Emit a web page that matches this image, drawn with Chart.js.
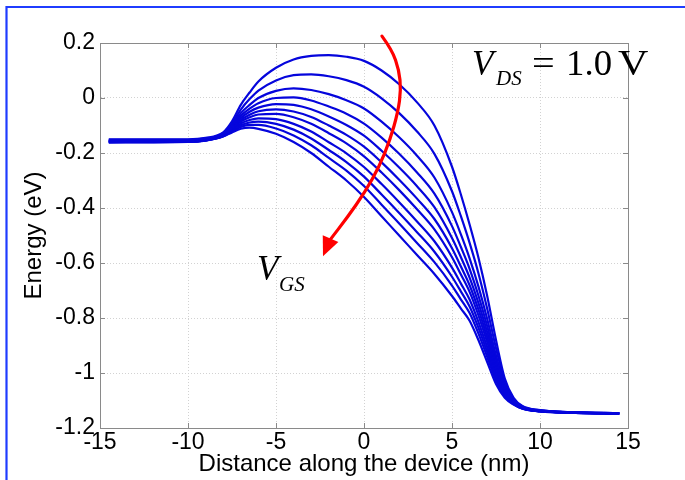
<!DOCTYPE html>
<html><head><meta charset="utf-8">
<script src="https://cdn.jsdelivr.net/npm/chart.js@4.4.1/dist/chart.umd.min.js"></script>
<style>html,body{margin:0;padding:0;background:#fff;}canvas{display:block;}</style>
</head><body>
<canvas id="c" width="685" height="480"></canvas>
<script>
// Position along the device (nm)
const positionNm = [-14.5,-10,-9,-8,-7.5,-7,-6.5,-6,-5,-4,-3,-2,-1,0,1,2,3,4,5,5.5,6,6.5,7,7.5,8,8.5,9,10,11,12,14.5];

// Energy (eV) for each gate voltage (top curve = lowest V_GS)
const vgs1  = [-0.150,-0.150,-0.145,-0.125,-0.085,-0.025,0.020,0.060,0.110,0.140,0.153,0.156,0.150,0.135,0.100,0.050,-0.015,-0.100,-0.250,-0.350,-0.460,-0.580,-0.720,-0.880,-1.020,-1.090,-1.120,-1.135,-1.140,-1.143,-1.146];
const vgs2  = [-0.152,-0.152,-0.147,-0.128,-0.093,-0.042,-0.004,0.027,0.064,0.083,0.086,0.079,0.065,0.041,-0.001,-0.055,-0.121,-0.203,-0.339,-0.429,-0.527,-0.637,-0.766,-0.910,-1.033,-1.095,-1.122,-1.136,-1.140,-1.143,-1.146];
const vgs3  = [-0.154,-0.154,-0.149,-0.130,-0.099,-0.055,-0.025,0.000,0.026,0.035,0.029,0.014,-0.008,-0.038,-0.086,-0.143,-0.209,-0.289,-0.415,-0.495,-0.583,-0.685,-0.804,-0.936,-1.045,-1.099,-1.124,-1.137,-1.141,-1.144,-1.147];
const vgs4  = [-0.156,-0.155,-0.150,-0.132,-0.103,-0.065,-0.039,-0.019,0.000,0.002,-0.009,-0.031,-0.057,-0.093,-0.144,-0.203,-0.270,-0.348,-0.466,-0.541,-0.621,-0.718,-0.830,-0.954,-1.052,-1.102,-1.125,-1.137,-1.141,-1.144,-1.147];
const vgs5  = [-0.157,-0.156,-0.151,-0.133,-0.107,-0.073,-0.050,-0.035,-0.022,-0.025,-0.041,-0.067,-0.098,-0.137,-0.192,-0.253,-0.320,-0.397,-0.509,-0.578,-0.653,-0.745,-0.852,-0.968,-1.059,-1.104,-1.126,-1.138,-1.142,-1.144,-1.147];
const vgs6  = [-0.158,-0.156,-0.151,-0.134,-0.110,-0.080,-0.061,-0.048,-0.041,-0.049,-0.069,-0.100,-0.134,-0.177,-0.234,-0.297,-0.365,-0.440,-0.546,-0.612,-0.681,-0.769,-0.871,-0.981,-1.064,-1.106,-1.126,-1.138,-1.142,-1.144,-1.147];
const vgs7  = [-0.158,-0.157,-0.152,-0.136,-0.113,-0.086,-0.070,-0.060,-0.058,-0.070,-0.094,-0.128,-0.165,-0.212,-0.271,-0.335,-0.404,-0.478,-0.579,-0.641,-0.705,-0.790,-0.888,-0.992,-1.069,-1.108,-1.127,-1.139,-1.142,-1.144,-1.147];
const vgs8  = [-0.159,-0.158,-0.153,-0.137,-0.116,-0.093,-0.080,-0.074,-0.077,-0.094,-0.122,-0.161,-0.201,-0.251,-0.313,-0.379,-0.448,-0.521,-0.617,-0.674,-0.733,-0.814,-0.907,-1.005,-1.075,-1.110,-1.128,-1.139,-1.142,-1.145,-1.148];
const vgs9  = [-0.160,-0.159,-0.154,-0.138,-0.119,-0.099,-0.089,-0.086,-0.094,-0.115,-0.147,-0.189,-0.233,-0.286,-0.351,-0.418,-0.487,-0.559,-0.650,-0.703,-0.758,-0.835,-0.924,-1.016,-1.080,-1.111,-1.129,-1.139,-1.143,-1.145,-1.148];
const vgs10 = [-0.161,-0.159,-0.154,-0.139,-0.122,-0.105,-0.098,-0.098,-0.111,-0.136,-0.172,-0.218,-0.264,-0.320,-0.388,-0.456,-0.526,-0.597,-0.682,-0.732,-0.782,-0.856,-0.941,-1.027,-1.084,-1.113,-1.129,-1.140,-1.143,-1.145,-1.148];
const vgs11 = [-0.162,-0.160,-0.155,-0.140,-0.125,-0.112,-0.108,-0.112,-0.130,-0.160,-0.200,-0.250,-0.300,-0.360,-0.430,-0.500,-0.570,-0.640,-0.720,-0.765,-0.810,-0.880,-0.960,-1.040,-1.090,-1.115,-1.130,-1.140,-1.143,-1.145,-1.148];
const curves = [vgs1,vgs2,vgs3,vgs4,vgs5,vgs6,vgs7,vgs8,vgs9,vgs10,vgs11];

const xTickValues = [-15,-10,-5,0,5,10,15];
const xTickLabels = ['-15','-10','-5','0','5','10','15'];
const yTickValues = [-1.2,-1,-0.8,-0.6,-0.4,-0.2,0,0.2];
const yTickLabels = ['-1.2','-1','-0.8','-0.6','-0.4','-0.2','0','0.2'];

// Annotation anchors (data units)
const arrowPath = [[1.02,0.225],[1.59,0.175],[1.99,0.102],[2.10,0.029],[1.93,-0.051],[1.48,-0.153],[0.85,-0.251],[0.06,-0.342],[-0.97,-0.436],[-1.93,-0.516]];
const arrowTip = [-2.33,-0.575];
const vdsAnchor = [6.14, 0.084];
const vgsAnchor = [-6.08, -0.662];

const framePlugin = {
  id:'frame',
  beforeDraw(chart){
    const c = chart.ctx;
    c.save();
    c.fillStyle = '#fff';
    c.fillRect(0,0,chart.width,chart.height);
    c.strokeStyle = '#1f3cff';
    c.lineWidth = 2.2;
    c.beginPath();
    c.moveTo(6.5, chart.height+2);
    c.lineTo(6.5, 7);
    c.lineTo(chart.width+2, 7);
    c.stroke();
    c.restore();
  }
};

const boxPlugin = {
  id:'box',
  afterDatasetsDraw(chart){
    const c = chart.ctx, a = chart.chartArea;
    const xs = chart.scales.x, ys = chart.scales.y;
    c.save();
    c.strokeStyle = '#8a8a8a';
    c.lineWidth = 1;
    c.strokeRect(Math.round(a.left)+0.5, Math.round(a.top)+0.5, Math.round(a.right-a.left), Math.round(a.bottom-a.top));
    c.beginPath();
    const L = 5;
    xTickValues.forEach(v=>{
      const p = Math.round(xs.getPixelForValue(v))+0.5;
      c.moveTo(p, a.bottom); c.lineTo(p, a.bottom-L);
      c.moveTo(p, a.top); c.lineTo(p, a.top+L);
    });
    yTickValues.forEach(v=>{
      const p = Math.round(ys.getPixelForValue(v))+0.5;
      c.moveTo(a.left, p); c.lineTo(a.left+L, p);
      c.moveTo(a.right, p); c.lineTo(a.right-L, p);
    });
    c.stroke();
    c.restore();
  }
};

const annotationPlugin = {
  id:'annot',
  afterDraw(chart){
    const c = chart.ctx, xs = chart.scales.x, ys = chart.scales.y;
    const P = d => [xs.getPixelForValue(d[0]), ys.getPixelForValue(d[1])];
    c.save();
    // red curved arrow
    const pts = arrowPath.map(P);
    c.strokeStyle = '#ff0000';
    c.fillStyle = '#ff0000';
    c.lineWidth = 3.2;
    c.lineCap = 'round';
    c.beginPath();
    c.moveTo(pts[0][0], pts[0][1]);
    for (let i=1;i<pts.length-1;i++){
      const mx = (pts[i][0]+pts[i+1][0])/2, my = (pts[i][1]+pts[i+1][1])/2;
      c.quadraticCurveTo(pts[i][0], pts[i][1], mx, my);
    }
    c.lineTo(pts[pts.length-1][0], pts[pts.length-1][1]);
    c.stroke();
    const tip = P(arrowTip);
    const last = pts[pts.length-1];
    const ang = Math.atan2(tip[1]-last[1], tip[0]-last[0]);
    const hl = 19, hw = 8.5;
    c.beginPath();
    c.moveTo(tip[0], tip[1]);
    c.lineTo(tip[0]-hl*Math.cos(ang)+hw*Math.sin(ang), tip[1]-hl*Math.sin(ang)-hw*Math.cos(ang));
    c.lineTo(tip[0]-hl*Math.cos(ang)-hw*Math.sin(ang), tip[1]-hl*Math.sin(ang)+hw*Math.cos(ang));
    c.closePath();
    c.fill();
    // V_DS = 1.0 V
    c.fillStyle = '#000';
    c.textBaseline = 'alphabetic';
    c.textAlign = 'left';
    const [vx, vy] = P(vdsAnchor);
    c.font = 'italic 35px "Liberation Serif"';
    c.fillText('V', vx, vy);
    c.font = 'italic 21px "Liberation Serif"';
    c.fillText('DS', vx+24, vy+10);
    c.font = '35px "Liberation Serif"';
    c.save(); c.translate(vx+60, vy); c.scale(1.15,1); c.fillText('=', 0, 0); c.restore();
    c.save(); c.translate(vx+94, vy); c.scale(1.05,1); c.fillText('1.0', 0, 0); c.restore();
    c.save(); c.translate(vx+146, vy); c.scale(1.2,1); c.fillText('V', 0, 0); c.restore();
    // V_GS
    const [gx, gy] = P(vgsAnchor);
    c.font = 'italic 35px "Liberation Serif"';
    c.fillText('V', gx, gy);
    c.font = 'italic 21px "Liberation Serif"';
    c.fillText('GS', gx+22, gy+11);
    c.restore();
  }
};

const datasets = curves.map((c,i)=>({
  label: 'V_GS ' + (i+1),
  data: positionNm.map((x,j)=>({x:x, y:c[j]})),
  borderColor: '#0505dc',
  borderWidth: 2.2,
  pointRadius: 0,
  cubicInterpolationMode: 'monotone',
  fill: false
}));

const tickFont = {family:'"Liberation Sans", Arial, sans-serif', size:23};
const titleFont = {family:'"Liberation Sans", Arial, sans-serif', size:24};

new Chart(document.getElementById('c').getContext('2d'), {
  type:'line',
  data:{datasets},
  options:{
    responsive:false,
    animation:false,
    devicePixelRatio:1,
    layout:{padding:{left:0,right:57,top:43,bottom:0}},
    plugins:{legend:{display:false}, tooltip:{enabled:false}},
    scales:{
      x:{
        type:'linear', min:-15, max:15,
        afterBuildTicks: s => { s.ticks = xTickValues.map(v=>({value:v})); },
        afterFit: s => { s.height = 52; },
        ticks:{callback:(v,i)=>xTickLabels[i], font:tickFont, color:'#000', padding:1, maxRotation:0, autoSkip:false},
        grid:{color:'#d2d2d2', lineWidth:1, drawTicks:false},
        border:{display:true, color:'#8a8a8a', width:1, dash:[1,2]},
        title:{display:true, text:'Distance along the device (nm)', font:titleFont, color:'#000', padding:{top:0,bottom:1}}
      },
      y:{
        type:'linear', min:-1.2, max:0.2,
        afterBuildTicks: s => { s.ticks = yTickValues.map(v=>({value:v})); },
        afterFit: s => { s.width = 100; },
        ticks:{callback:(v,i)=>yTickLabels[i], font:tickFont, color:'#000', padding:5, autoSkip:false},
        grid:{color:'#d2d2d2', lineWidth:1, drawTicks:false},
        border:{display:true, color:'#8a8a8a', width:1, dash:[1,2]},
        title:{display:true, text:'Energy (eV)', font:titleFont, color:'#000', padding:{top:20,bottom:0}}
      }
    }
  },
  plugins:[framePlugin, boxPlugin, annotationPlugin]
});
</script>
</body></html>
